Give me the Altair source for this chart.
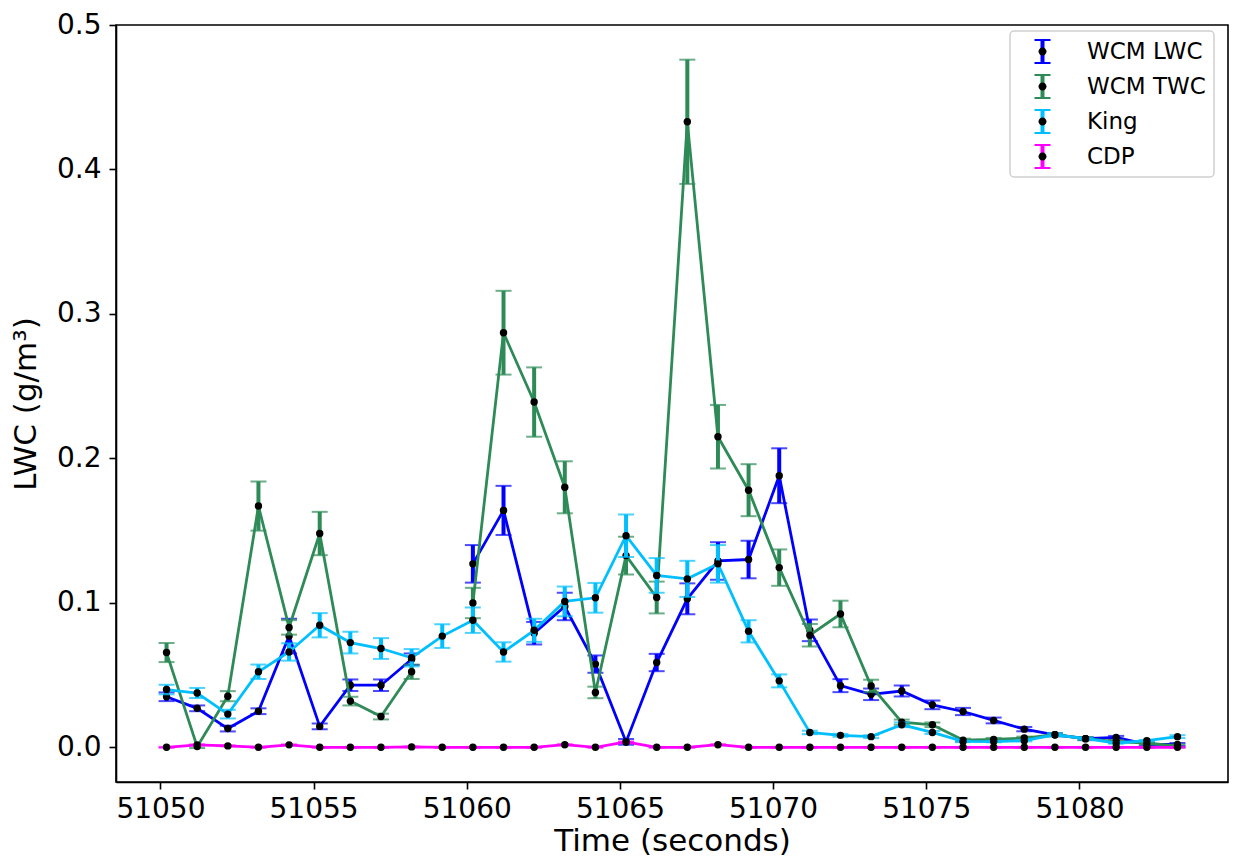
import altair as alt
import pandas as pd

# ---------------- data ----------------
time_s = [51050.2, 51051.2, 51052.2, 51053.2, 51054.2, 51055.2, 51056.2, 51057.2,
          51058.2, 51059.2, 51060.2, 51061.2, 51062.2, 51063.2, 51064.2, 51065.2,
          51066.2, 51067.2, 51068.2, 51069.2, 51070.2, 51071.2, 51072.2, 51073.2,
          51074.2, 51075.2, 51076.2, 51077.2, 51078.2, 51079.2, 51080.2, 51081.2,
          51082.2, 51083.2]

wcm_lwc = [0.035, 0.027, 0.013, 0.025, 0.077, 0.0145, 0.043, 0.043,
           0.061, None, 0.127, 0.164, 0.079, 0.0975, 0.0576, 0.0037,
           0.0587, 0.1028, 0.129, 0.130, 0.188, 0.081, 0.0427, 0.0367,
           0.039, 0.0294, 0.0248, 0.0186, 0.0126, 0.0087, 0.006, 0.0069,
           0.002, 0.002]
wcm_lwc_err = [0.003, 0.002, 0.002, 0.002, 0.012, 0.002, 0.004, 0.004,
               0.004, None, 0.013, 0.017, 0.0078, 0.0095, 0.006, 0.002,
               0.006, 0.0107, 0.013, 0.013, 0.019, 0.0075, 0.0045, 0.004,
               0.0038, 0.003, 0.0025, 0.002, 0.0015, 0.001, 0.001, 0.001,
               0.001, 0.001]

wcm_twc = [0.0656, 0.0005, 0.0354, 0.167, 0.083, 0.148, 0.032, 0.0213,
           0.0523, None, 0.0999, 0.287, 0.239, 0.180, 0.038, 0.1327,
           0.1037, 0.433, 0.215, 0.178, 0.1244, 0.0776, 0.0923, 0.0425,
           0.0174, 0.0156, 0.005, 0.0055, 0.0064, 0.0087, 0.006, 0.004,
           0.003, 0.0009]
wcm_twc_err = [0.0066, 0.001, 0.0035, 0.017, 0.005, 0.015, 0.003, 0.002,
               0.005, None, 0.0105, 0.029, 0.024, 0.018, 0.004, 0.013,
               0.011, 0.043, 0.022, 0.018, 0.0126, 0.0078, 0.0092, 0.0043,
               0.0018, 0.0016, 0.001, 0.001, 0.001, 0.001, 0.001, 0.001,
               0.001, 0.001]

king = [0.040, 0.0376, 0.023, 0.0523, 0.066, 0.0845, 0.0725, 0.0684,
        0.062, 0.077, 0.088, 0.066, 0.081, 0.101, 0.1035, 0.1465,
        0.119, 0.1166, 0.127, 0.0803, 0.046, 0.0103, 0.0083, 0.0074,
        0.0156, 0.0103, 0.0041, 0.004, 0.0046, 0.0087, 0.006, 0.003,
        0.0046, 0.0074]
king_err = [0.0033, 0.0035, 0.003, 0.005, 0.006, 0.0084, 0.0075, 0.0072,
            0.006, 0.0082, 0.0088, 0.0067, 0.008, 0.0103, 0.0103, 0.0147,
            0.012, 0.0125, 0.013, 0.0077, 0.0045, 0.0012, 0.001, 0.001,
            0.0016, 0.001, 0.0005, 0.0005, 0.0005, 0.001, 0.0006, 0.0005,
            0.0005, 0.001]

cdp = [0.0, 0.0017, 0.001, 0.0, 0.0017, 0.0, 0.0, 0.0,
       0.0003, 0.0, 0.0, 0.0, 0.0, 0.0018, 0.0, 0.0037,
       0.0, 0.0, 0.0018, 0.0, 0.0, 0.0, 0.0, 0.0,
       0.0, 0.0, 0.0, 0.0, 0.0, 0.0, 0.0, 0.0,
       0.0, 0.0]
cdp_err = [0.0003] * 34

series_names = ["WCM LWC", "WCM TWC", "King", "CDP"]
series_colors = ["#0000ff", "#2e8b57", "#00bfff", "#ff00ff"]
series_values = [wcm_lwc, wcm_twc, king, cdp]
series_errors = [wcm_lwc_err, wcm_twc_err, king_err, cdp_err]
dot_keys = [n + " " for n in series_names]  # separate domain for the dot overlay legend

# ---------------- long table ----------------
rows = []
for name, key, vals, errs in zip(series_names, dot_keys, series_values, series_errors):
    seg = 0
    for t, v, e in zip(time_s, vals, errs):
        if v is None:
            seg += 1
            continue
        rows.append({"t": t, "series": name, "series2": key, "value": v,
                     "lo": v - e, "hi": v + e, "seg": seg})
df = pd.DataFrame(rows)

FONT = "DejaVu Sans"

x_enc = alt.X("t:Q",
              scale=alt.Scale(domain=[51048.55, 51084.85], nice=False, zero=False),
              axis=alt.Axis(values=[51050, 51055, 51060, 51065, 51070, 51075, 51080],
                            format="d", title="Time (seconds)",
                            tickSize=7, labelPadding=6, titlePadding=3))
y_scale = alt.Scale(domain=[-0.024, 0.5], nice=False, zero=False)
y_axis = alt.Axis(values=[0.0, 0.1, 0.2, 0.3, 0.4, 0.5], format=".1f",
                  title="LWC (g/m³)", tickSize=7, labelPadding=8, titlePadding=14)
y_enc = alt.Y("value:Q", scale=y_scale, axis=y_axis)

base = alt.Chart(df)
layers = []
for name, col in zip(series_names, series_colors):
    b = base.transform_filter(alt.datum.series == name)
    stem = b.mark_rule(color=col, strokeWidth=4).encode(
        x=x_enc, y=alt.Y("lo:Q", scale=y_scale, axis=y_axis), y2="hi:Q")
    cap_lo = b.mark_tick(color=col, orient="horizontal", size=16, thickness=2).encode(
        x=x_enc, y=alt.Y("lo:Q", scale=y_scale, axis=y_axis))
    cap_hi = b.mark_tick(color=col, orient="horizontal", size=16, thickness=2).encode(
        x=x_enc, y=alt.Y("hi:Q", scale=y_scale, axis=y_axis))
    line = b.mark_line(color=col, strokeWidth=2.8).encode(
        x=x_enc, y=y_enc, detail="seg:N", order="t:Q")
    pts = b.mark_circle(color="black", size=55, opacity=1).encode(x=x_enc, y=y_enc)
    layers += [stem, cap_lo, cap_hi, line, pts]

ibeam = "M-0.64,-1H0.64V-0.84H0.16V0.84H0.64V1H-0.64V0.84H-0.16V-0.84H-0.64Z"
dot = "M-0.32,0A0.32,0.32,0,1,0,0.32,0A0.32,0.32,0,1,0,-0.32,0Z"

legend_common = dict(orient="none", legendX=894, legendY=6, title=None,
                     symbolSize=625, symbolOffset=12, labelOffset=32,
                     labelFontSize=23, labelFont=FONT, padding=8, rowPadding=10,
                     symbolStrokeWidth=0, symbolOpacity=1)

leg_bars = base.mark_point(filled=True, size=0, shape=ibeam).encode(
    x=x_enc, y=y_enc,
    fill=alt.Fill("series:N", sort=series_names,
                  scale=alt.Scale(domain=series_names, range=series_colors),
                  legend=alt.Legend(symbolType=ibeam, labelColor="black",
                                    strokeColor="#d0d0d0", cornerRadius=4,
                                    **legend_common)))
leg_dots = base.mark_point(filled=True, size=0, color="black").encode(
    x=x_enc, y=y_enc,
    shape=alt.Shape("series2:N", sort=dot_keys,
                    scale=alt.Scale(domain=dot_keys, range=[dot, dot, dot, dot]),
                    legend=alt.Legend(symbolFillColor="black",
                                      labelColor="rgba(0,0,0,0)",
                                      **legend_common)))

chart = alt.layer(*layers, leg_bars, leg_dots).properties(
    width=1112, height=757,
    autosize=alt.AutoSizeParams(type="none"),
    padding={"left": 108, "top": 17, "right": 2, "bottom": 75},
).configure_view(
    stroke="black", strokeWidth=1.6
).configure_axis(
    grid=False, domainColor="black", domainWidth=1.6,
    tickColor="black", tickWidth=1.6,
    labelFont=FONT, labelFontSize=28, labelColor="black",
    titleFont=FONT, titleFontSize=31, titleFontWeight="normal", titleColor="black",
).configure_legend(
    strokeWidth=1.5
)

chart.save("out.html", embed_options={"renderer": "svg", "actions": False})
